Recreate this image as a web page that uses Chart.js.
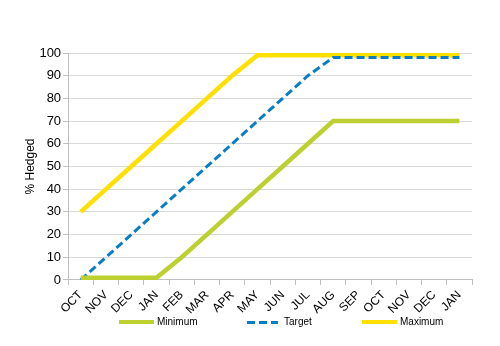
<!DOCTYPE html>
<html>
<head>
<meta charset="utf-8">
<title>% Hedged</title>
<script src="https://cdn.jsdelivr.net/npm/chart.js@4"></script>
<style>
    body { margin: 0; background: #fff; }
    .wrap { position: relative; width: 500px; height: 346px; }
    .legend { position: absolute; top: 316px; left: 0; width: 500px; height: 12px;
              font: 10px Arial, "Liberation Sans", sans-serif; color: #000; }
    .legend .item { position: absolute; top: 0; height: 12px; line-height: 12px; }
    .legend .swatch { position: absolute; top: 4px; height: 4px; }
    .legend .label { position: absolute; top: 0; white-space: nowrap; }
</style>
</head>
<body>
<div class="wrap">
    <canvas id="hedgeChart" width="500" height="346"></canvas>
    <div class="legend" id="legend"></div>
</div>
<script>
// Hedging schedule, one value per month
const months = ['OCT', 'NOV', 'DEC', 'JAN', 'FEB', 'MAR', 'APR', 'MAY',
                'JUN', 'JUL', 'AUG', 'SEP', 'OCT', 'NOV', 'DEC', 'JAN'];
const minimum = [1, 1, 1, 1, 10, 20, 30, 40, 50, 60, 70, 70, 70, 70, 70, 70];
const target = [0, 10, 20, 30, 40, 50, 60, 70, 80, 90, 98, 98, 98, 98, 98, 98];
const maximum = [30, 40, 50, 60, 70, 80, 90, 99, 99, 99, 99, 99, 99, 99, 99, 99];
const yTicks = [0, 10, 20, 30, 40, 50, 60, 70, 80, 90, 100];

const GREEN = '#bdd031';
const BLUE = '#0b7cc6';
const YELLOW = '#ffe000';
const FONT = 'Arial, "Liberation Sans", sans-serif';

const series = [
    { label: 'Minimum', data: minimum, color: GREEN, width: 4.5, dash: [] },
    { label: 'Target', data: target, color: BLUE, width: 3, dash: [8, 4] },
    { label: 'Maximum', data: maximum, color: YELLOW, width: 4.5, dash: [] }
];

new Chart(document.getElementById('hedgeChart'), {
    type: 'line',
    data: {
        labels: months,
        datasets: series.map(s => ({
            label: s.label,
            data: s.data,
            borderColor: s.color,
            backgroundColor: s.color,
            borderWidth: s.width,
            borderDash: s.dash,
            pointRadius: 0,
            tension: 0,
            fill: false
        }))
    },
    options: {
        responsive: false,
        animation: false,
        layout: { padding: { left: 23, right: 28, top: 53, bottom: 26 } },
        plugins: {
            legend: { display: false },
            tooltip: { enabled: false }
        },
        scales: {
            x: {
                offset: true,
                grid: { drawOnChartArea: false, offset: true, tickLength: 5, color: '#bfbfbf' },
                border: { color: '#bfbfbf' },
                ticks: {
                    minRotation: 45, maxRotation: 45, autoSkip: false, padding: 3,
                    color: '#000', font: { family: FONT, size: 12 }
                }
            },
            y: {
                min: 0,
                max: 100,
                afterBuildTicks: axis => { axis.ticks = yTicks.map(v => ({ value: v })); },
                grid: { color: '#d9d9d9', tickColor: '#bfbfbf', tickLength: 5 },
                border: { color: '#bfbfbf' },
                ticks: { padding: 2, color: '#000', font: { family: FONT, size: 13 } },
                title: {
                    display: true, text: '% Hedged', color: '#000',
                    padding: { top: 0, bottom: 0 },
                    font: { family: FONT, size: 12 }
                }
            }
        }
    }
});

// Legend row under the axis labels
const legendSlots = [
    { x: 119, w: 35, textX: 157 },
    { x: 247, w: 31, textX: 284 },
    { x: 362, w: 35, textX: 400 }
];
const legend = document.getElementById('legend');
series.forEach((s, i) => {
    const slot = legendSlots[i];
    const item = document.createElement('div');
    item.className = 'item';
    item.style.left = '0px';

    const swatch = document.createElement('span');
    swatch.className = 'swatch';
    swatch.style.left = slot.x + 'px';
    swatch.style.width = slot.w + 'px';
    if (s.dash.length) {
        swatch.style.top = '5px';
        swatch.style.height = '3px';
        swatch.style.background = `repeating-linear-gradient(90deg, ${s.color} 0 8px, transparent 8px 12px)`;
    } else {
        swatch.style.background = s.color;
    }

    const text = document.createElement('span');
    text.className = 'label';
    text.style.left = slot.textX + 'px';
    text.textContent = s.label;

    item.appendChild(swatch);
    item.appendChild(text);
    legend.appendChild(item);
});
</script>
</body>
</html>
